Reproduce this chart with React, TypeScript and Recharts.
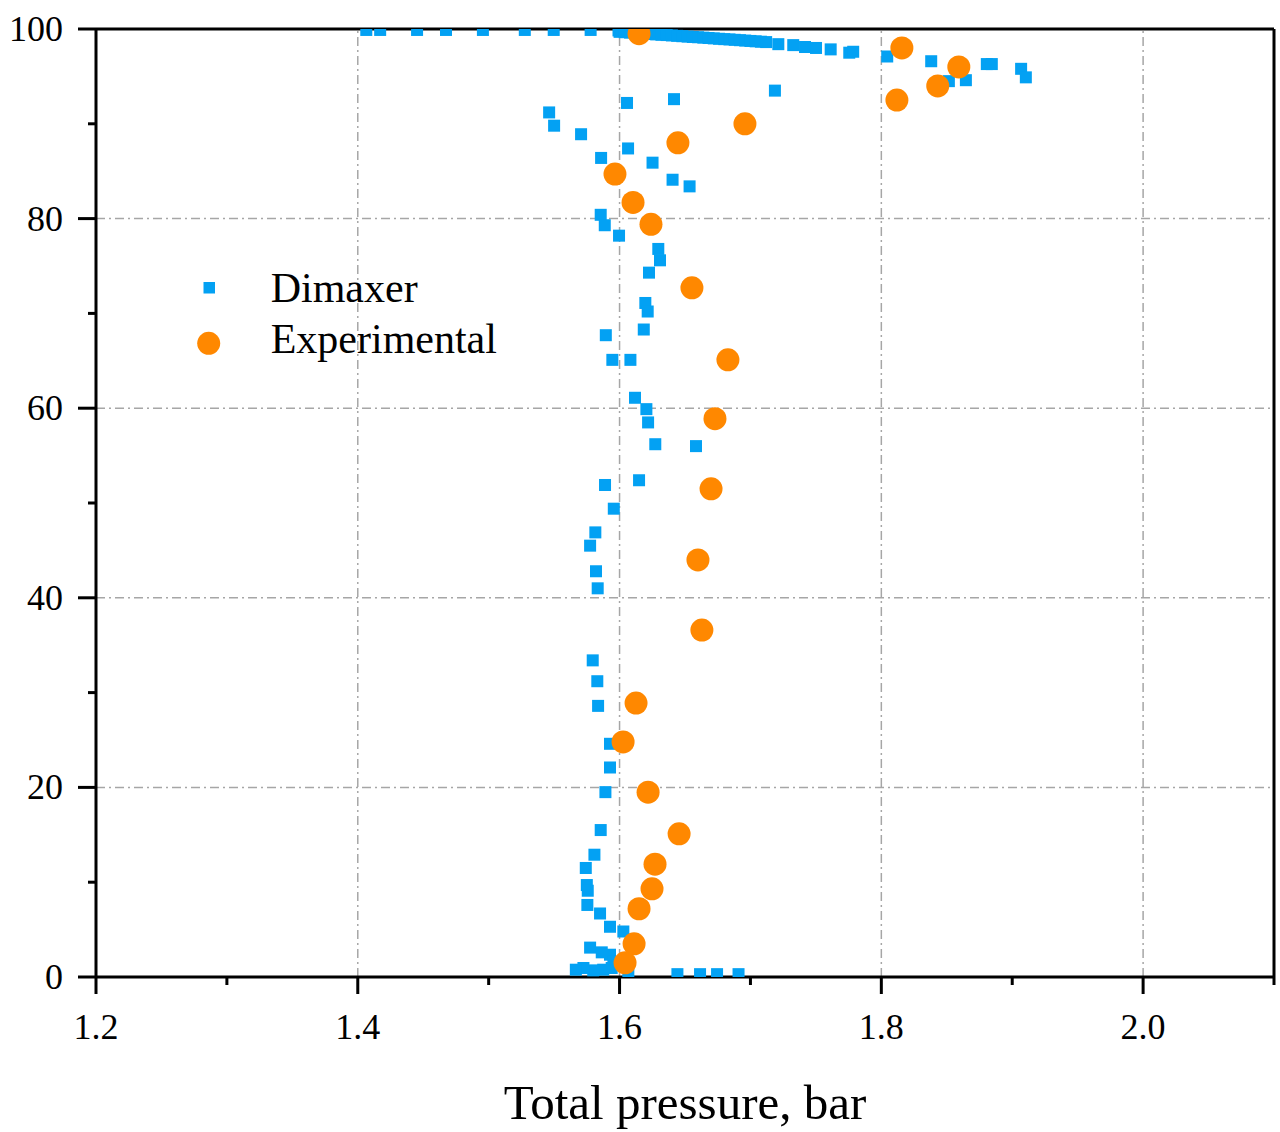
import React from 'react';
import { ScatterChart, Scatter, XAxis, YAxis, ReferenceLine, Legend } from 'recharts';

const FONT = "'Liberation Serif', 'Times New Roman', serif";
const BLUE = '#03A1F3';
const ORANGE = '#FF8800';

// Tick values
const xTicks = [1.2, 1.3, 1.4, 1.5, 1.6, 1.7, 1.8, 1.9, 2.0, 2.1];
const yTicks = [0, 10, 20, 30, 40, 50, 60, 70, 80, 90, 100];
const xGrid = [1.4, 1.6, 1.8, 2.0];
const yGrid = [20, 40, 60, 80];

// Dimaxer: [pressure (bar), height (%)]
const dimaxerTopRow: [number, number][] = [
  [1.4065, 99.9], [1.4171, 99.9], [1.4453, 99.9], [1.4674, 99.9], [1.4956, 99.9],
  [1.5276, 99.9], [1.5497, 99.9], [1.5779, 99.9], [1.5992, 99.85],
];
const dimaxerTopBand: [number, number][] = [
  [1.600, 99.70], [1.604, 99.66], [1.608, 99.62], [1.612, 99.58], [1.616, 99.55],
  [1.620, 99.51], [1.624, 99.47], [1.628, 99.43], [1.632, 99.39], [1.636, 99.36],
  [1.640, 99.32], [1.644, 99.28], [1.648, 99.24], [1.652, 99.20], [1.656, 99.16],
  [1.660, 99.13], [1.664, 99.09], [1.668, 99.05], [1.672, 99.01], [1.676, 98.97],
  [1.680, 98.93], [1.684, 98.90], [1.688, 98.86], [1.692, 98.82], [1.696, 98.78],
  [1.700, 98.74], [1.704, 98.70], [1.708, 98.66], [1.712, 98.62],
];
const dimaxerUpperRight: [number, number][] = [
  [1.7213, 98.4], [1.7327, 98.3], [1.7417, 98.1], [1.7501, 98.0], [1.7613, 97.85],
  [1.7755, 97.5], [1.7785, 97.6], [1.8045, 97.1], [1.8381, 96.6], [1.8516, 94.5],
  [1.8646, 94.6], [1.8806, 96.3], [1.8844, 96.3], [1.9068, 95.8], [1.9104, 94.9],
];
const dimaxerCore: [number, number][] = [
  [1.7187, 93.5], [1.6416, 92.6], [1.6057, 92.2], [1.5462, 91.2], [1.5500, 89.8],
  [1.5706, 88.9], [1.6065, 87.4], [1.5859, 86.4], [1.6252, 85.9], [1.6405, 84.1],
  [1.6535, 83.4], [1.5856, 80.4], [1.5887, 79.3], [1.5996, 78.2], [1.6296, 76.8],
  [1.6309, 75.6], [1.6225, 74.3], [1.6197, 71.1], [1.6215, 70.2], [1.6185, 68.3],
  [1.5895, 67.7], [1.5945, 65.1], [1.6083, 65.1], [1.6118, 61.1], [1.6205, 59.9],
  [1.6218, 58.5], [1.6273, 56.2], [1.6584, 56.0], [1.6149, 52.4], [1.5889, 51.9],
  [1.5956, 49.4], [1.5815, 46.9], [1.5775, 45.5], [1.5820, 42.8], [1.5833, 41.0],
  [1.5795, 33.4], [1.5830, 31.2], [1.5836, 28.6], [1.5927, 24.6], [1.5927, 22.1],
  [1.5892, 19.5], [1.5856, 15.5], [1.5808, 12.9], [1.5742, 11.5], [1.5750, 9.7],
  [1.5757, 9.1], [1.5754, 7.6],
];
const dimaxerBase: [number, number][] = [
  [1.5851, 6.7], [1.5927, 5.3], [1.6029, 4.8], [1.5775, 3.1], [1.5864, 2.6],
  [1.5927, 2.35], [1.5953, 1.6], [1.5940, 0.95], [1.5875, 0.77], [1.5799, 0.7],
  [1.5724, 0.95], [1.5666, 0.77], [1.6067, 0.6], [1.6442, 0.3], [1.6615, 0.3],
  [1.6745, 0.3], [1.6909, 0.3],
];

// Experimental: [pressure (bar), height (%)]
const experimentalPoints: [number, number][] = [
  [1.6149, 99.5], [1.8157, 98.0], [1.8592, 96.0], [1.8431, 94.0], [1.8119, 92.5],
  [1.6958, 90.0], [1.6446, 88.0], [1.5965, 84.7], [1.6103, 81.7], [1.6240, 79.4],
  [1.6553, 72.7], [1.6828, 65.1], [1.6729, 58.9], [1.6699, 51.5], [1.6599, 44.0],
  [1.6629, 36.6], [1.6126, 28.9], [1.6027, 24.8], [1.6218, 19.5], [1.6455, 15.1],
  [1.6271, 11.9], [1.6248, 9.3], [1.6149, 7.2], [1.6111, 3.5], [1.6042, 1.5],
];

const toRows = (pts: [number, number][]) => pts.map(([p, h]) => ({ p, h }));
const dimaxerData = toRows([
  ...dimaxerTopRow, ...dimaxerTopBand, ...dimaxerUpperRight, ...dimaxerCore, ...dimaxerBase,
]);
const experimentalData = toRows(experimentalPoints);

const isMajorX = (v: number) => Math.round(v * 10) % 2 === 0;
const isMajorY = (v: number) => Math.round(v) % 20 === 0;

const XTick = (props: any) => {
  const { x, y, payload } = props;
  const v = payload.value as number;
  const major = isMajorX(v);
  return (
    <g>
      <line x1={x} y1={y} x2={x} y2={y + (major ? 17 : 8)} stroke="#000" strokeWidth={3} />
      {major && (
        <text x={x} y={y + 62} textAnchor="middle" fontFamily={FONT} fontSize={36} fill="#000">
          {v.toFixed(1)}
        </text>
      )}
    </g>
  );
};

const YTick = (props: any) => {
  const { x, y, payload } = props;
  const v = payload.value as number;
  const major = isMajorY(v);
  return (
    <g>
      <line x1={x} y1={y} x2={x - (major ? 18 : 8)} y2={y} stroke="#000" strokeWidth={3} />
      {major && (
        <text x={x - 33} y={y + 12} textAnchor="end" fontFamily={FONT} fontSize={36} fill="#000">
          {String(v)}
        </text>
      )}
    </g>
  );
};

const SquareShape = (props: any) => {
  const { cx, cy } = props;
  if (cx == null || cy == null) return null;
  return <rect x={cx - 6} y={cy - 6} width={12} height={12} fill={BLUE} />;
};

const CircleShape = (props: any) => {
  const { cx, cy } = props;
  if (cx == null || cy == null) return null;
  return <circle cx={cx} cy={cy} r={11.5} fill={ORANGE} />;
};

const LegendBox = () => (
  <svg width={400} height={120} style={{ display: 'block' }}>
    <rect x={23.5} y={32} width={11.5} height={11.5} fill={BLUE} />
    <text x={90.7} y={51.7} fontFamily={FONT} fontSize={42} fill="#000">Dimaxer</text>
    <circle cx={28.7} cy={93.3} r={11.5} fill={ORANGE} />
    <text x={90.7} y={103} fontFamily={FONT} fontSize={42} fill="#000">Experimental</text>
  </svg>
);

export default function App() {
  return (
    <div style={{ width: 1280, height: 1132, background: '#fff' }}>
      <style>{'body{margin:0;}'}</style>
      <ScatterChart width={1280} height={1132} margin={{ top: 29, right: 6, bottom: 0, left: 0 }}>
        <XAxis
          type="number"
          dataKey="p"
          domain={[1.2, 2.1]}
          ticks={xTicks}
          allowDataOverflow
          height={155}
          tickSize={0}
          tickMargin={0}
          tickLine={false}
          axisLine={{ stroke: '#000', strokeWidth: 3 }}
          tick={<XTick />}
          interval={0}
          label={{
            value: 'Total pressure, bar',
            position: 'insideBottom',
            offset: 13,
            style: { fontFamily: FONT, fontSize: 49, fill: '#000' },
          }}
        />
        <YAxis
          type="number"
          dataKey="h"
          domain={[0, 100]}
          ticks={yTicks}
          allowDataOverflow
          width={96}
          tickSize={0}
          tickMargin={0}
          tickLine={false}
          axisLine={{ stroke: '#000', strokeWidth: 3 }}
          tick={<YTick />}
          interval={0}
        />
        {xGrid.map((v) => (
          <ReferenceLine key={`gx${v}`} x={v} stroke="#A6A6A6" strokeWidth={1.5} strokeDasharray="9 4 2 4" />
        ))}
        {yGrid.map((v) => (
          <ReferenceLine key={`gy${v}`} y={v} stroke="#A6A6A6" strokeWidth={1.5} strokeDasharray="9 4 2 4" />
        ))}
        <ReferenceLine y={100} stroke="#000" strokeWidth={3} />
        <ReferenceLine x={2.1} stroke="#000" strokeWidth={3} />
        <Legend
          layout="horizontal"
          verticalAlign="middle"
          align="center"
          content={() => <LegendBox />}
          wrapperStyle={{ position: 'absolute', left: 180, top: 250, width: 400, height: 120 }}
        />
        <Scatter name="Dimaxer" data={dimaxerData} shape={<SquareShape />} isAnimationActive={false} />
        <Scatter name="Experimental" data={experimentalData} shape={<CircleShape />} isAnimationActive={false} />
      </ScatterChart>
    </div>
  );
}
